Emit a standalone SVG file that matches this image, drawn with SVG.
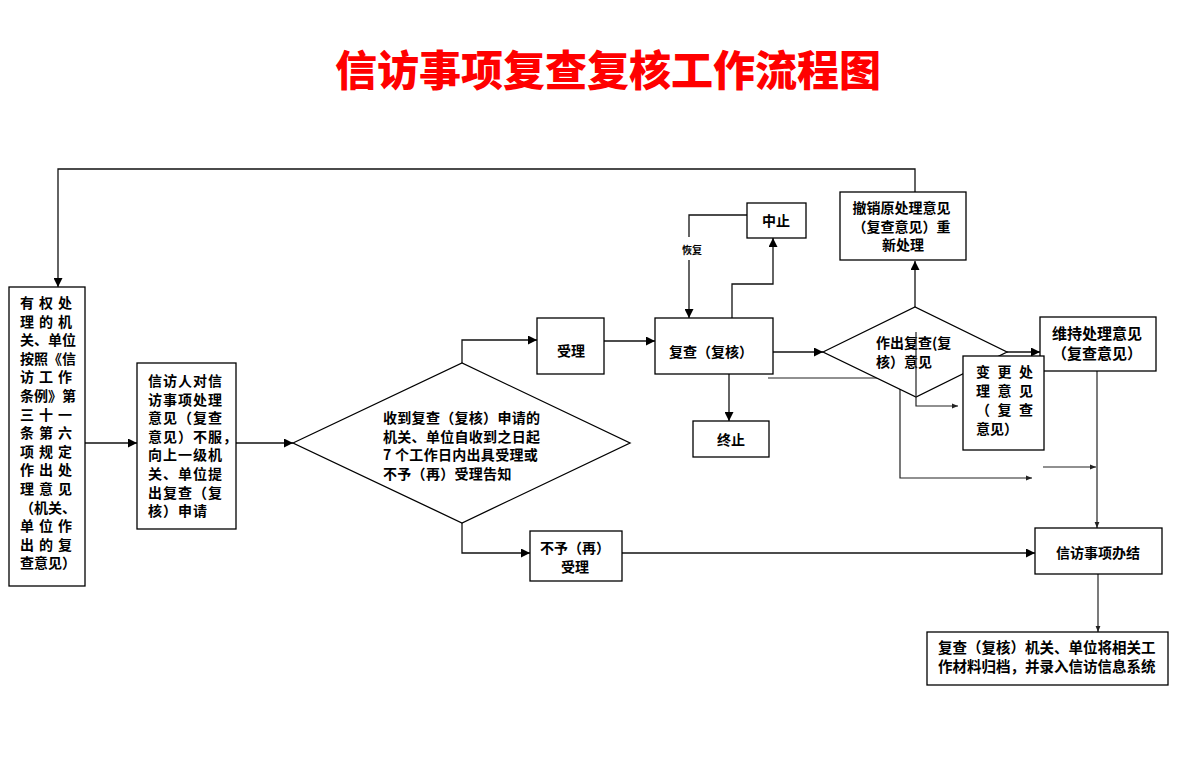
<svg xmlns="http://www.w3.org/2000/svg" width="1184" height="768" viewBox="0 0 1184 768">
<style>
  .bx{fill:#fff;stroke:#000;stroke-width:1.3}
  .t{font-family:"Noto Sans CJK SC","Noto Sans CJK JP",sans-serif;font-weight:700;font-size:14px;fill:#000}
  .c{text-anchor:middle}
  .ln{fill:none;stroke:#111;stroke-width:1.3}
  .la{fill:none;stroke:#111;stroke-width:1.3;marker-end:url(#a)}
  .ls{fill:none;stroke:#222;stroke-width:1.2;marker-end:url(#s)}
</style>
<defs>
  <marker id="a" viewBox="0 0 10 10" refX="10" refY="5" markerWidth="10" markerHeight="9" markerUnits="userSpaceOnUse" orient="auto">
    <path d="M0,0 L10,5 L0,10 Z" fill="#000"/>
  </marker>
  <marker id="s" viewBox="0 0 10 10" refX="10" refY="5" markerWidth="8" markerHeight="6" markerUnits="userSpaceOnUse" orient="auto">
    <path d="M0,1 L10,5 L0,9 Z" fill="#222"/>
  </marker>
</defs>
<rect width="1184" height="768" fill="#fff"/>

<text x="608" y="86" text-anchor="middle" style="font-family:'Noto Sans CJK SC','Noto Sans CJK JP',sans-serif;font-weight:900;font-size:42px;fill:#ff0000">信访事项复查复核工作流程图</text>

<g id="connectors">
  <polyline class="la" points="915,192 915,169 58,169 58,287"/>
  <line class="la" x1="85" y1="443" x2="137" y2="443"/>
  <line class="la" x1="236" y1="443" x2="293" y2="443"/>
  <polyline class="la" points="462,363 462,340 537,340"/>
  <polyline class="la" points="462,523 462,553 530,553"/>
  <line class="la" x1="604" y1="341" x2="655" y2="341"/>
  <polyline class="la" points="732,318 732,284 773,284 773,238"/>
  <polyline class="ln" points="747,215 689,215 689,237"/>
  <line class="la" x1="689" y1="260" x2="689" y2="318"/>
  <line class="la" x1="729" y1="374" x2="729" y2="421"/>
  <line class="la" x1="773" y1="352" x2="823" y2="352"/>
  <line class="la" x1="915" y1="307" x2="915" y2="261"/>
  <line class="la" x1="1007" y1="352" x2="1040" y2="352"/>
  <polyline class="ls" points="768,378 900,378 900,478 1032,478"/>
  <line class="ls" x1="1043" y1="467" x2="1096" y2="467"/>
  <line class="ls" x1="1097" y1="371" x2="1097" y2="528"/>
  <line class="la" x1="622" y1="553" x2="1035" y2="553"/>
  <line class="ls" x1="1098" y1="574" x2="1098" y2="632"/>
  <text class="t" x="692" y="254" text-anchor="middle" style="font-size:10px">恢复</text>
</g>

<g id="n-authority">
  <rect class="bx" x="9" y="287" width="76" height="299"/>
  <text class="t" x="20" style="letter-spacing:5px">
    <tspan x="20" y="308">有权处</tspan>
    <tspan x="20" y="326.6">理的机</tspan>
    <tspan x="20" y="345.2" style="letter-spacing:0">关、单位</tspan>
    <tspan x="20" y="363.8" style="letter-spacing:0">按照《信</tspan>
    <tspan x="20" y="382.4">访工作</tspan>
    <tspan x="20" y="401" style="letter-spacing:0">条例》第</tspan>
    <tspan x="20" y="419.6">三十一</tspan>
    <tspan x="20" y="438.2">条第六</tspan>
    <tspan x="20" y="456.8">项规定</tspan>
    <tspan x="20" y="475.4">作出处</tspan>
    <tspan x="20" y="494">理意见</tspan>
    <tspan x="20" y="512.6" style="letter-spacing:0">（机关、</tspan>
    <tspan x="20" y="531.2">单位作</tspan>
    <tspan x="20" y="549.8">出的复</tspan>
    <tspan x="20" y="568.4" style="letter-spacing:0">查意见）</tspan>
  </text>
</g>

<g id="n-petitioner">
  <rect class="bx" x="137" y="363" width="99" height="166"/>
  <text class="t" style="letter-spacing:1px">
    <tspan x="148" y="386">信访人对信</tspan>
    <tspan x="148" y="404.6">访事项处理</tspan>
    <tspan x="148" y="423.2">意见（复查</tspan>
    <tspan x="148" y="441.8">意见）不服，</tspan>
    <tspan x="148" y="460.4">向上一级机</tspan>
    <tspan x="148" y="479">关、单位提</tspan>
    <tspan x="148" y="497.6">出复查（复</tspan>
    <tspan x="148" y="516.2">核）申请</tspan>
  </text>
</g>

<g id="n-decision1">
  <polygon class="bx" points="293,443 462,363 630,443 462,523"/>
  <text class="t" style="letter-spacing:0.3px">
    <tspan x="383" y="423">收到复查（复核）申请的</tspan>
    <tspan x="383" y="441.6">机关、单位自收到之日起</tspan>
    <tspan x="383" y="460.2">7 个工作日内出具受理或</tspan>
    <tspan x="383" y="478.8">不予（再）受理告知</tspan>
  </text>
</g>

<g id="n-accept">
  <rect class="bx" x="537" y="318" width="67" height="56"/>
  <text class="t c" x="571" y="356">受理</text>
</g>

<g id="n-reject">
  <rect class="bx" x="530" y="531" width="92" height="50"/>
  <text class="t c"><tspan x="575" y="553">不予（再）</tspan><tspan x="575" y="572">受理</tspan></text>
</g>

<g id="n-review">
  <rect class="bx" x="655" y="318" width="118" height="56"/>
  <text class="t" x="669" y="357">复查（复核）</text>
</g>

<g id="n-suspend">
  <rect class="bx" x="747" y="203" width="59" height="35"/>
  <text class="t c" x="776" y="226">中止</text>
</g>

<g id="n-terminate">
  <rect class="bx" x="693" y="421" width="76" height="36"/>
  <text class="t c" x="731" y="445">终止</text>
</g>

<g id="n-revoke">
  <rect class="bx" x="840" y="192" width="126" height="68"/>
  <text class="t c">
    <tspan x="903" y="213">撤销原处理意见</tspan>
    <tspan x="903" y="231.6">（复查意见）重</tspan>
    <tspan x="903" y="250.2">新处理</tspan>
  </text>
</g>

<g id="n-decision2">
  <polygon class="bx" points="823,352 915,307 1007,352 916,397"/>
  <text class="t"><tspan x="876" y="348">作出复查(复</tspan><tspan x="876" y="366.6">核）意见</tspan></text>
  <polyline class="ls" points="916,332 916,406 958,406"/>
</g>

<g id="n-maintain">
  <rect class="bx" x="1040" y="317" width="116" height="54"/>
  <text class="t c" style="font-size:15px"><tspan x="1097" y="339">维持处理意见</tspan><tspan x="1097" y="359">（复查意见）</tspan></text>
</g>

<g id="n-change">
  <rect class="bx" x="963" y="356" width="81" height="94"/>
  <text class="t" style="letter-spacing:7.5px">
    <tspan x="976" y="377">变更处</tspan>
    <tspan x="976" y="396">理意见</tspan>
    <tspan x="976" y="415">（复查</tspan>
    <tspan x="976" y="434" style="letter-spacing:0">意见）</tspan>
  </text>
</g>

<g id="n-close">
  <rect class="bx" x="1035" y="528" width="127" height="46"/>
  <text class="t c" x="1098" y="558">信访事项办结</text>
</g>

<g id="n-archive">
  <rect class="bx" x="927" y="632" width="241" height="53"/>
  <text class="t" style="font-size:14.5px">
    <tspan x="938" y="653">复查（复核）机关、单位将相关工</tspan>
    <tspan x="938" y="672">作材料归档，并录入信访信息系统</tspan>
  </text>
</g>
</svg>
